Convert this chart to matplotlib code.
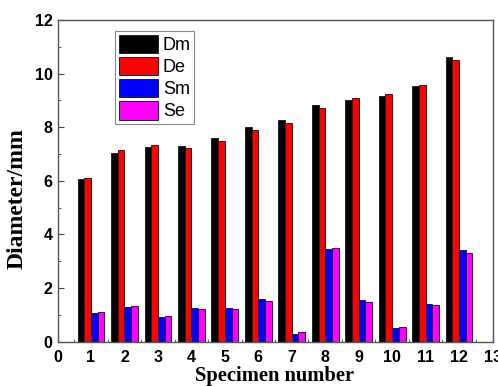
import numpy as np
import matplotlib.pyplot as plt
from matplotlib.ticker import MultipleLocator

# specimen diameters (mm)
specimens = np.arange(1, 13)
dm = [6.06, 7.04, 7.28, 7.31, 7.59, 8.01, 8.27, 8.82, 9.03, 9.16, 9.54, 10.61]
de = [6.10, 7.15, 7.34, 7.23, 7.50, 7.90, 8.16, 8.71, 9.09, 9.23, 9.59, 10.51]
sm = [1.06, 1.28, 0.91, 1.24, 1.26, 1.58, 0.30, 3.46, 1.56, 0.50, 1.41, 3.41]
se = [1.10, 1.33, 0.96, 1.22, 1.23, 1.53, 0.36, 3.50, 1.49, 0.55, 1.38, 3.30]

series = [("Dm", dm, "#000000"), ("De", de, "#ff0000"),
          ("Sm", sm, "#0000ff"), ("Se", se, "#ff00ff")]

fig = plt.figure(figsize=(4.98, 3.86), dpi=100)
ax = fig.add_axes([0.1155, 0.1148, 0.8735, 0.8335])

w = 0.2
for i, (name, vals, col) in enumerate(series):
    ax.bar(specimens + (i - 1.5) * w, vals, width=w, color=col,
           edgecolor="#222222", linewidth=0.7, label=name)

ax.set_xlim(0, 13)
ax.set_ylim(0, 12)
ax.xaxis.set_major_locator(MultipleLocator(1))
ax.xaxis.set_minor_locator(MultipleLocator(0.5))
ax.yaxis.set_major_locator(MultipleLocator(2))
ax.yaxis.set_minor_locator(MultipleLocator(1))
ax.tick_params(which="both", direction="in", colors="#444444",
               labelcolor="black", labelsize=11.5)
ax.tick_params(which="major", length=4)
ax.tick_params(which="minor", length=2.5)
ax.tick_params(axis="x", which="major", pad=6)
for lab in ax.get_xticklabels() + ax.get_yticklabels():
    lab.set_fontweight("bold")
    lab.set_fontfamily("Liberation Sans")
for s in ax.spines.values():
    s.set_color("#555555")
    s.set_linewidth(1.0)

ax.set_xlabel("Specimen number", fontsize=14.8, fontweight="bold",
              family="Liberation Serif", labelpad=1)
ax.set_ylabel("Diameter/mm", fontsize=17, fontweight="bold",
              family="Liberation Serif")
ax.yaxis.set_label_coords(-0.068, 0.444)

leg = ax.legend(loc="upper left", bbox_to_anchor=(0.132, 0.965),
                prop={"family": "Liberation Sans", "size": 13},
                fancybox=False, edgecolor="#888888", framealpha=1,
                handlelength=2.2, handleheight=1.2, labelspacing=0.15,
                handletextpad=0.25, borderpad=0.2, borderaxespad=0)
leg.get_frame().set_linewidth(0.8)

fig.savefig("out.png", dpi=100)
